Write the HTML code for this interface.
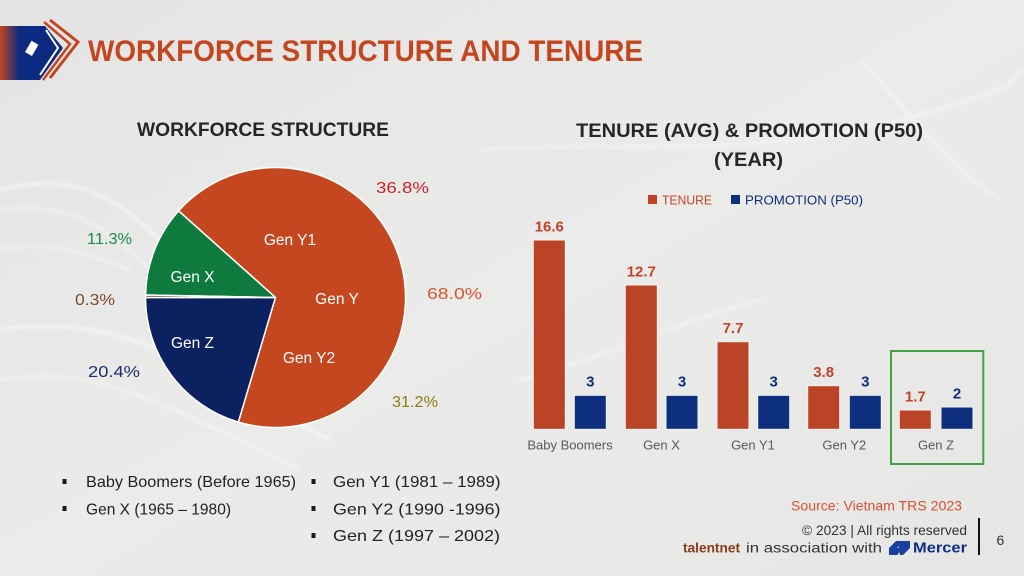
<!DOCTYPE html>
<html><head><meta charset="utf-8"><style>
html,body{margin:0;padding:0;width:1024px;height:576px;overflow:hidden;background:#e8e8e6;}
svg{display:block;}
text{font-family:"Liberation Sans",sans-serif;}
</style></head><body>
<svg width="1024" height="576" viewBox="0 0 1024 576" xmlns="http://www.w3.org/2000/svg">
<defs>
<linearGradient id="bg" x1="0" y1="0" x2="1" y2="1">
<stop offset="0" stop-color="#e4e4e4"/><stop offset="0.5" stop-color="#ebebea"/><stop offset="1" stop-color="#e6e6e4"/>
</linearGradient>
<linearGradient id="lg" x1="0" y1="0" x2="1" y2="0">
<stop offset="0" stop-color="#c4461f"/><stop offset="0.3" stop-color="#0b2a80"/><stop offset="1" stop-color="#0b2a80"/>
</linearGradient>
<filter id="bl"><feGaussianBlur stdDeviation="1.5"/></filter>
</defs>
<rect width="1024" height="576" fill="url(#bg)"/>
<g fill="none" stroke="#ffffff" stroke-opacity="0.55" filter="url(#bl)">
<path d="M0 190 C80 170 120 200 170 250 S260 330 330 360" stroke-width="3"/>
<path d="M0 210 C70 200 110 230 150 270 S230 350 300 390" stroke-width="2"/>
<path d="M0 330 C60 320 110 330 160 350 S250 400 330 440" stroke-width="3"/>
<path d="M0 380 C50 370 100 380 150 400 S240 440 300 470" stroke-width="2"/>
<path d="M0 250 C40 240 80 250 130 270" stroke-width="2"/>
<path d="M480 150 C600 140 750 160 900 120 S1000 80 1024 70" stroke-width="2"/>
<path d="M520 380 C600 360 680 320 760 300" stroke-width="2"/>
<path d="M860 60 C900 100 940 160 1000 200" stroke-width="2"/>
</g>
<!-- logo -->
<path d="M50 20 L78 42 L50 78" fill="none" stroke="#c4461f" stroke-width="3"/>
<path d="M44 22 L70 44 L43 80" fill="none" stroke="#c4461f" stroke-width="2.5"/>
<path d="M0 26 L45 26 L63 48 L40 80 L0 80 Z" fill="url(#lg)"/>
<path d="M46 30 L58 48 L40 75" fill="none" stroke="#ffffff" stroke-width="2"/>
<rect x="28" y="42" width="8" height="13" fill="#ffffff" transform="rotate(30 32 48)"/>
<!-- title -->
<text x="88" y="61" font-size="30" font-weight="bold" fill="#c4461f" textLength="555" lengthAdjust="spacingAndGlyphs">WORKFORCE STRUCTURE AND TENURE</text>
<text x="137" y="136" font-size="19" font-weight="bold" fill="#262626" textLength="252" lengthAdjust="spacingAndGlyphs">WORKFORCE STRUCTURE</text>
<text x="576" y="137" font-size="19" font-weight="bold" fill="#262626" textLength="347" lengthAdjust="spacingAndGlyphs">TENURE (AVG) &amp; PROMOTION (P50)</text>
<text x="714" y="166" font-size="19" font-weight="bold" fill="#262626" textLength="69" lengthAdjust="spacingAndGlyphs">(YEAR)</text>
<!-- pie -->
<g stroke="#ffffff" stroke-width="1.5" stroke-linejoin="round">
<path d="M275.5 297.5 L145.5 297.5 A130 130 0 0 0 238.4 422.1 Z" fill="#0b2160"/>
<path d="M275.5 297.5 L238.4 422.1 A130 130 0 1 0 178.6 210.9 Z" fill="#c5471f"/>
<path d="M275.5 297.5 L178.6 210.9 A130 130 0 0 0 145.52 295.05 Z" fill="#0e7a3e"/>
<path d="M275.5 297.5 L145.52 295.05 A130 130 0 0 0 145.5 297.5 Z" fill="#7a4a2a"/>
</g>
<g font-size="15.5" fill="#ffffff" text-anchor="middle">
<text x="290" y="245">Gen Y1</text>
<text x="192.5" y="282">Gen X</text>
<text x="337" y="304">Gen Y</text>
<text x="192.5" y="348">Gen Z</text>
<text x="309" y="363">Gen Y2</text>
</g>
<g font-size="16">
<text x="376" y="193" fill="#d0202a" textLength="53" lengthAdjust="spacingAndGlyphs">36.8%</text>
<text x="87" y="244" fill="#1e8a4c" textLength="45" lengthAdjust="spacingAndGlyphs">11.3%</text>
<text x="75" y="305" fill="#7b4a2a" textLength="40" lengthAdjust="spacingAndGlyphs">0.3%</text>
<text x="427" y="299" fill="#d9542e" textLength="55" lengthAdjust="spacingAndGlyphs">68.0%</text>
<text x="88" y="377" fill="#1a2e6e" textLength="52" lengthAdjust="spacingAndGlyphs">20.4%</text>
<text x="392" y="407" fill="#8c7a12" textLength="46" lengthAdjust="spacingAndGlyphs">31.2%</text>
</g>
<!-- bar legend -->
<rect x="648" y="195" width="9" height="9" fill="#c04427"/>
<text x="662" y="204.3" font-size="13" fill="#c04427" textLength="50" lengthAdjust="spacingAndGlyphs">TENURE</text>
<rect x="731" y="195" width="9" height="9" fill="#0d2f7d"/>
<text x="745" y="204.3" font-size="13" fill="#0d2f7d" textLength="118" lengthAdjust="spacingAndGlyphs">PROMOTION (P50)</text>
<!-- bars -->
<g stroke="#f3f3f3" stroke-width="1">
<rect x="533.3" y="240" width="32" height="189.3" fill="#bb4426"/>
<rect x="574.3" y="395.3" width="32" height="34" fill="#0d2f7d"/>
<rect x="625.3" y="285" width="32" height="144.3" fill="#bb4426"/>
<rect x="666" y="395.3" width="32" height="34" fill="#0d2f7d"/>
<rect x="717" y="341.7" width="32" height="87.6" fill="#bb4426"/>
<rect x="757.7" y="395.3" width="32" height="34" fill="#0d2f7d"/>
<rect x="807.7" y="385.7" width="32" height="43.6" fill="#bb4426"/>
<rect x="849.3" y="395.3" width="32" height="34" fill="#0d2f7d"/>
<rect x="899.3" y="410" width="32" height="19.3" fill="#bb4426"/>
<rect x="941" y="407" width="32" height="22.3" fill="#0d2f7d"/>
</g>
<g font-size="15" font-weight="bold" text-anchor="middle">
<text x="549.3" y="231.5" fill="#c04427">16.6</text>
<text x="590.3" y="386.7" fill="#0d2f7d">3</text>
<text x="641.3" y="276.3" fill="#c04427">12.7</text>
<text x="682" y="386.7" fill="#0d2f7d">3</text>
<text x="733" y="332.8" fill="#c04427">7.7</text>
<text x="773.7" y="386.7" fill="#0d2f7d">3</text>
<text x="823.7" y="377.2" fill="#c04427">3.8</text>
<text x="865.3" y="386.7" fill="#0d2f7d">3</text>
<text x="915.3" y="401.7" fill="#c04427">1.7</text>
<text x="957" y="398.3" fill="#0d2f7d">2</text>
</g>
<g font-size="13" fill="#595959" text-anchor="middle">
<text x="570" y="449.3">Baby Boomers</text>
<text x="661.5" y="449.3">Gen X</text>
<text x="753" y="449.3">Gen Y1</text>
<text x="844.3" y="449.3">Gen Y2</text>
<text x="936" y="449.3">Gen Z</text>
</g>
<rect x="891" y="351" width="92.3" height="113" fill="none" stroke="#43a047" stroke-width="2"/>
<!-- generation legend -->
<g fill="#1a1a1a">
<rect x="62.5" y="479" width="4" height="5"/>
<rect x="62.5" y="506" width="4" height="5"/>
<rect x="311.5" y="479" width="4" height="5"/>
<rect x="311.5" y="506" width="4" height="5"/>
<rect x="311.5" y="533" width="4" height="5"/>
</g>
<g font-size="16" fill="#222222">
<text x="86" y="487" textLength="210" lengthAdjust="spacingAndGlyphs">Baby Boomers (Before 1965)</text>
<text x="86" y="514.5" textLength="145" lengthAdjust="spacingAndGlyphs">Gen X (1965 – 1980)</text>
<text x="333" y="487" textLength="167.5" lengthAdjust="spacingAndGlyphs">Gen Y1 (1981 – 1989)</text>
<text x="333" y="514.5" textLength="167.5" lengthAdjust="spacingAndGlyphs">Gen Y2 (1990 -1996)</text>
<text x="333" y="541" textLength="167" lengthAdjust="spacingAndGlyphs">Gen Z (1997 – 2002)</text>
</g>
<!-- footer -->
<text x="791" y="510.7" font-size="14" fill="#d9502f" textLength="171" lengthAdjust="spacingAndGlyphs">Source: Vietnam TRS 2023</text>
<text x="802" y="535" font-size="14" fill="#333333" textLength="165" lengthAdjust="spacingAndGlyphs">© 2023 | All rights reserved</text>
<text x="683" y="552.7" font-size="14" font-weight="bold" fill="#8b3a1a" textLength="57" lengthAdjust="spacingAndGlyphs">talentnet</text>
<text x="746" y="552.7" font-size="14" fill="#333333" textLength="136" lengthAdjust="spacingAndGlyphs">in association with</text>
<path d="M889 548 L896 541 L904 541 L897 548 L904 548 L897 555 L889 555 Z" fill="#1a3fa0"/>
<path d="M898 541 L910 541 L910 548 L903 555 L900 555 Z" fill="#1a3fa0"/>
<text x="913" y="552.7" font-size="15" font-weight="bold" fill="#0b2e8a" textLength="54" lengthAdjust="spacingAndGlyphs">Mercer</text>
<rect x="978" y="518" width="2" height="37" fill="#111111"/>
<text x="996.5" y="545" font-size="14" fill="#333333">6</text>
</svg>
</body></html>
